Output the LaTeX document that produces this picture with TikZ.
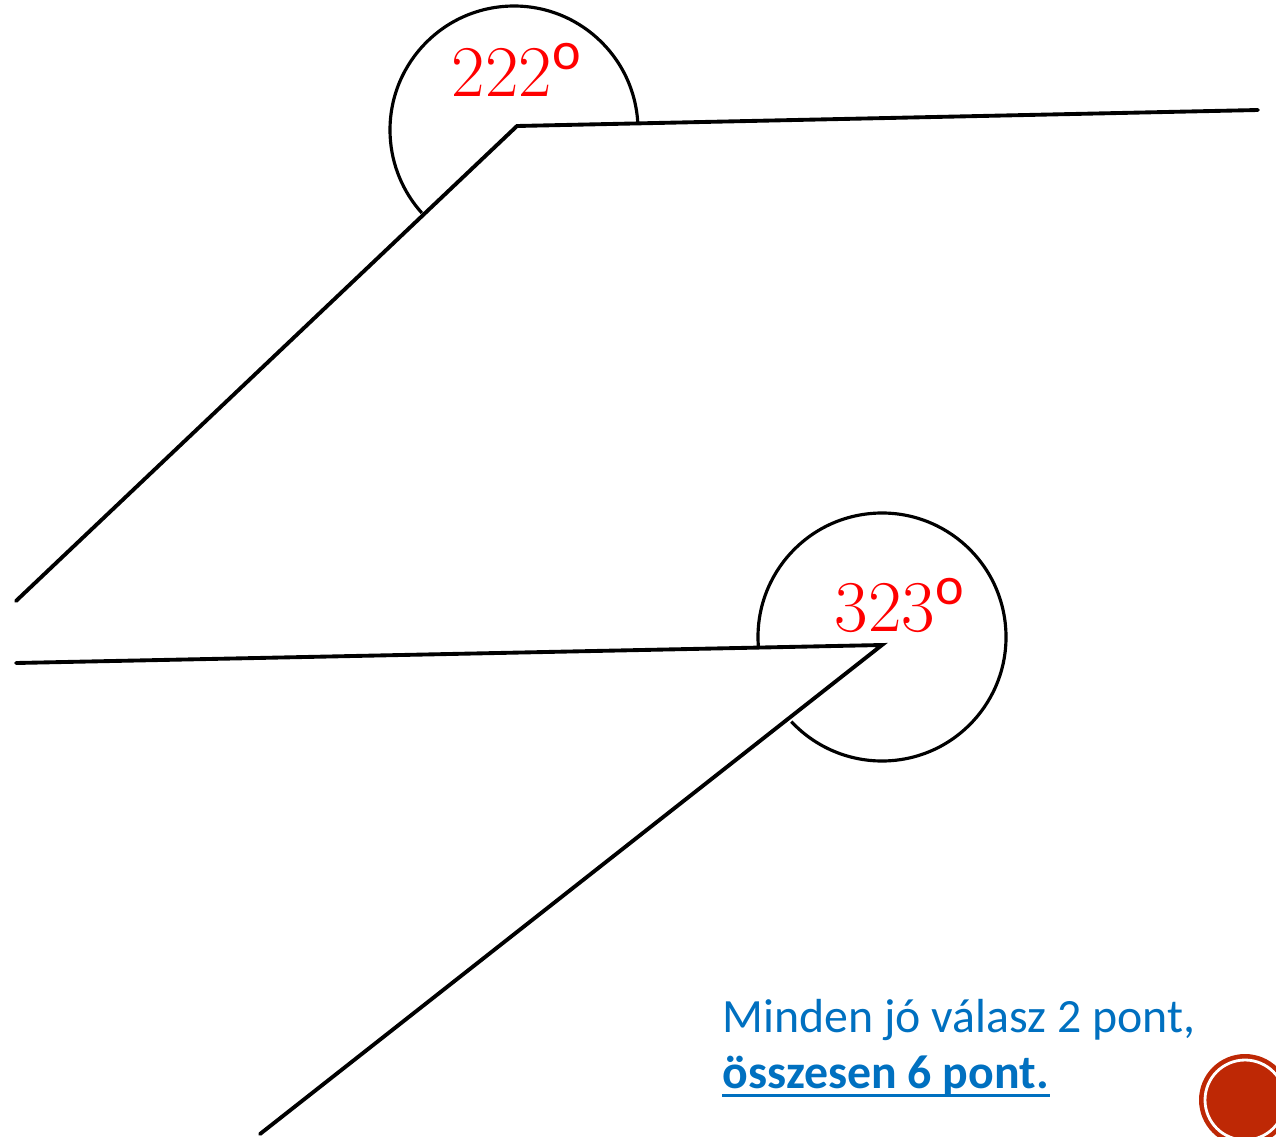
\documentclass[tikz,border=0pt]{standalone}
\usepackage{fontspec}
\setmainfont{Carlito}
\definecolor{answerblue}{RGB}{0,112,192}
\definecolor{badgered}{RGB}{190,40,5}
\tikzset{
  leg/.style={line width=1.1pt, line cap=round, line join=miter},
  anglearc/.style={line width=0.9pt},
  degree/.style={text=red, font=\fontsize{22}{26}\selectfont, inner sep=0pt},
  note/.style={anchor=base west, inner sep=0pt, text=answerblue,
    font=\fontsize{13.6}{16}\selectfont}
}
\begin{document}
\begin{tikzpicture}

  \useasboundingbox (0,0) rectangle (12.76,11.36);
  \clip (0,0) rectangle (12.76,11.36);

  % First angle (222)
  \coordinate (topV) at (5.17,10.10);
  \coordinate (topR) at (12.58,10.26);
  \coordinate (topL) at (0.16,5.35);
  \coordinate (topC) at (5.14,10.06);
  \draw[leg] (topL) -- (topV) -- (topR);
  \draw[anglearc] (topC) ++(2.8:1.24) arc (2.8:222:1.24);
  \node[degree] (topLabel) at (5.17,10.66) {$222^{\mathrm{o}}$};

  % Second angle (323)
  \coordinate (botV) at (8.82,4.91);
  \coordinate (botL) at (0.16,4.73);
  \coordinate (botD) at (2.60,0.02);
  \coordinate (botC) at (8.82,4.99);
  \draw[leg] (botL) -- (botV) -- (botD);
  \draw[anglearc] (botC) ++(185:1.24) arc (185:-137:1.24);
  \node[degree] (botLabel) at (9.00,5.31) {$323^{\mathrm{o}}$};

  % Scoring note
  \node[note] (note1) at (7.22,1.04) {Minden jó válasz 2 pont,};
  \node[note, font=\fontsize{13.6}{16}\selectfont\bfseries] (note2) at (7.22,0.48)
        {összesen 6 pont.};
  \draw[answerblue, line width=0.85pt]
        ([yshift=-0.07cm]note2.base west) -- ([yshift=-0.07cm]note2.base east);

  % Slide badge
  \fill[badgered] (12.45,0.36) circle (0.46);
  \draw[white, line width=0.8pt] (12.45,0.36) circle (0.40);

\end{tikzpicture}
\end{document}
